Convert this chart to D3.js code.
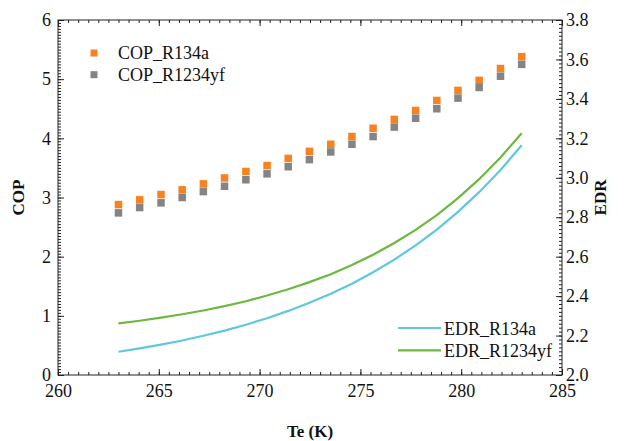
<!DOCTYPE html>
<html>
<head>
<meta charset="utf-8">
<script src="https://cdn.jsdelivr.net/npm/d3@7"></script>
<style>
    body { margin: 0; background: #fff; }
    svg text { font-family: "Liberation Serif", "Times New Roman", serif; fill: #111; }
</style>
</head>
<body>
<svg id="chart" width="629" height="441"></svg>
<script>
// evaporating temperature (K), 20 evenly spaced points
const te = [263.00, 264.05, 265.11, 266.16, 267.21, 268.26, 269.32, 270.37, 271.42, 272.47,
            273.53, 274.58, 275.63, 276.68, 277.74, 278.79, 279.84, 280.89, 281.95, 283.00]

const copR134a = [2.88, 2.96, 3.05, 3.13, 3.23, 3.33, 3.44, 3.54, 3.66, 3.78,
                  3.90, 4.03, 4.17, 4.32, 4.47, 4.64, 4.81, 4.98, 5.18, 5.38]
const copR1234yf = [2.74, 2.83, 2.91, 3.00, 3.10, 3.19, 3.30, 3.40, 3.52, 3.64,
                    3.77, 3.90, 4.03, 4.19, 4.34, 4.50, 4.68, 4.86, 5.05, 5.25]

const edrR134a = [2.118, 2.135, 2.154, 2.175, 2.199, 2.225, 2.255, 2.288, 2.325, 2.366,
                  2.412, 2.463, 2.521, 2.585, 2.657, 2.737, 2.827, 2.927, 3.039, 3.165]
const edrR1234yf = [2.262, 2.275, 2.291, 2.308, 2.327, 2.349, 2.374, 2.403, 2.435, 2.471,
                    2.511, 2.558, 2.610, 2.669, 2.736, 2.811, 2.897, 2.993, 3.103, 3.226]

const xTicks = [260, 265, 270, 275, 280, 285]
const copTicks = [0, 1, 2, 3, 4, 5, 6]
const edrTicks = [2.0, 2.2, 2.4, 2.6, 2.8, 3.0, 3.2, 3.4, 3.6, 3.8]

const colors = {
    copR134a: "#f7821f",
    copR1234yf: "#848484",
    edrR134a: "#5fc8dc",
    edrR1234yf: "#6cb840"
}

const fontFamily = "'Liberation Serif', 'Times New Roman', serif"

const margin = { left: 58, right: 67, top: 20, bottom: 66 }
const width = 629, height = 441

const svg = d3.select("#chart")

const x = d3.scaleLinear().domain([260, 285]).range([margin.left, width - margin.right])
const yCop = d3.scaleLinear().domain([0, 6]).range([height - margin.bottom, margin.top])
const yEdr = d3.scaleLinear().domain([2.0, 3.8]).range([height - margin.bottom, margin.top])

// minor tick positions
const xMinor = d3.range(260, 285.01, 0.5)
const copMinor = d3.range(0, 6.001, 0.05).map(v => +v.toFixed(2))
const edrMinor = d3.range(2.0, 3.801, 0.02).map(v => +v.toFixed(2))

const fmtEdr = d3.format(".1f")

function styleAxis(g) {
    g.attr("font-family", fontFamily).attr("font-size", 18)
    g.selectAll("path.domain").remove()
    g.selectAll("line").attr("stroke", "#222").attr("stroke-width", 1)
    g.selectAll("text").style("font-size", "18px").style("font-family", fontFamily)
}

// frame
svg.append("rect")
    .attr("x", margin.left)
    .attr("y", margin.top)
    .attr("width", width - margin.left - margin.right)
    .attr("height", height - margin.top - margin.bottom)
    .attr("fill", "none")
    .attr("stroke", "#222")
    .attr("stroke-width", 1)

// bottom axis (ticks point inward)
svg.append("g")
    .attr("transform", `translate(0,${height - margin.bottom})`)
    .call(d3.axisBottom(x).tickValues(xMinor).tickSize(-3).tickFormat(""))
    .call(styleAxis)
svg.append("g")
    .attr("transform", `translate(0,${height - margin.bottom})`)
    .call(d3.axisBottom(x).tickValues(xTicks).tickSize(-6).tickPadding(9).tickFormat(d3.format("d")))
    .call(styleAxis)

// top axis, mirrored ticks only
svg.append("g")
    .attr("transform", `translate(0,${margin.top})`)
    .call(d3.axisTop(x).tickValues(xMinor).tickSize(-3).tickFormat(""))
    .call(styleAxis)
svg.append("g")
    .attr("transform", `translate(0,${margin.top})`)
    .call(d3.axisTop(x).tickValues(xTicks).tickSize(-6).tickFormat(""))
    .call(styleAxis)

// left axis: COP
svg.append("g")
    .attr("transform", `translate(${margin.left},0)`)
    .call(d3.axisLeft(yCop).tickValues(copMinor).tickSize(-3).tickFormat(""))
    .call(styleAxis)
svg.append("g")
    .attr("transform", `translate(${margin.left},0)`)
    .call(d3.axisLeft(yCop).tickValues(copTicks).tickSize(-6).tickPadding(7).tickFormat(d3.format("d")))
    .call(styleAxis)

// right axis: EDR
svg.append("g")
    .attr("transform", `translate(${width - margin.right},0)`)
    .call(d3.axisRight(yEdr).tickValues(edrMinor).tickSize(-3).tickFormat(""))
    .call(styleAxis)
svg.append("g")
    .attr("transform", `translate(${width - margin.right},0)`)
    .call(d3.axisRight(yEdr).tickValues(edrTicks).tickSize(-6).tickPadding(4).tickFormat(fmtEdr))
    .call(styleAxis)

// axis titles
svg.append("text")
    .attr("x", (margin.left + width - margin.right) / 2)
    .attr("y", 437)
    .attr("text-anchor", "middle")
    .style("font-family", fontFamily)
    .style("font-size", "17px")
    .style("font-weight", "bold")
    .text("Te (K)")

svg.append("text")
    .attr("transform", `translate(24,${(margin.top + height - margin.bottom) / 2}) rotate(-90)`)
    .attr("text-anchor", "middle")
    .style("font-family", fontFamily)
    .style("font-size", "17px")
    .style("font-weight", "bold")
    .text("COP")

svg.append("text")
    .attr("transform", `translate(606,${(margin.top + height - margin.bottom) / 2}) rotate(-90)`)
    .attr("text-anchor", "middle")
    .style("font-family", fontFamily)
    .style("font-size", "17px")
    .style("font-weight", "bold")
    .text("EDR")

// EDR curves
const line = yScale => d3.line().x(d => x(d[0])).y(d => yScale(d[1]))

const edrSeries = [
    { key: "edrR134a", values: d3.zip(te, edrR134a) },
    { key: "edrR1234yf", values: d3.zip(te, edrR1234yf) }
]

svg.append("g").selectAll("path")
    .data(edrSeries)
    .join("path")
    .attr("d", d => line(yEdr)(d.values))
    .attr("fill", "none")
    .attr("stroke", d => colors[d.key])
    .attr("stroke-width", 2.2)

// COP markers
const copSeries = [
    { key: "copR134a", values: d3.zip(te, copR134a) },
    { key: "copR1234yf", values: d3.zip(te, copR1234yf) }
]
const markerSize = 7.5

svg.append("g").selectAll("g")
    .data(copSeries)
    .join("g")
    .attr("fill", d => colors[d.key])
    .selectAll("rect")
    .data(d => d.values)
    .join("rect")
    .attr("x", d => x(d[0]) - markerSize / 2)
    .attr("y", d => yCop(d[1]) - markerSize / 2)
    .attr("width", markerSize)
    .attr("height", markerSize)

// legend for markers (top left)
const legendTop = svg.append("g").attr("transform", "translate(94,53)")
legendTop.selectAll("g")
    .data([["copR134a", "COP_R134a"], ["copR1234yf", "COP_R1234yf"]])
    .join("g")
    .attr("transform", (d, i) => `translate(0,${i * 21.7})`)
    .call(g => g.append("rect")
        .attr("x", -3.5).attr("y", -3.5).attr("width", 7).attr("height", 7)
        .attr("fill", d => colors[d[0]]))
    .call(g => g.append("text")
        .attr("x", 24).attr("y", 6)
        .style("font-family", fontFamily)
        .style("font-size", "18px")
        .text(d => d[1]))

// legend for lines (bottom right)
const legendBottom = svg.append("g").attr("transform", "translate(398,328)")
legendBottom.selectAll("g")
    .data([["edrR134a", "EDR_R134a"], ["edrR1234yf", "EDR_R1234yf"]])
    .join("g")
    .attr("transform", (d, i) => `translate(0,${i * 22.4})`)
    .call(g => g.append("line")
        .attr("x1", 0).attr("x2", 43).attr("y1", 0).attr("y2", 0)
        .attr("stroke", d => colors[d[0]])
        .attr("stroke-width", 2.2))
    .call(g => g.append("text")
        .attr("x", 46).attr("y", 6.5)
        .style("font-family", fontFamily)
        .style("font-size", "18px")
        .text(d => d[1]))
</script>
</body>
</html>
